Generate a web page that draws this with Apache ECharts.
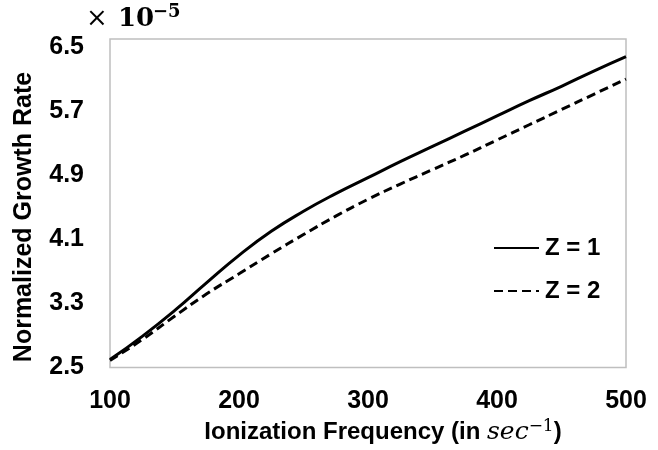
<!DOCTYPE html>
<html>
<head>
<meta charset="utf-8">
<script src="https://cdn.jsdelivr.net/npm/echarts@6/dist/echarts.min.js"></script>
<style>html,body{margin:0;padding:0;background:#fff}#c{width:658px;height:450px}</style>
</head>
<body>
<div id="c"></div>
<script>
// Data (values in units of 1e-5)
var freq = [100,125,150,175,200,225,250,275,300,325,350,375,400,425,450,475,500];
var z1 = [2.60,2.89,3.21,3.56,3.90,4.20,4.45,4.67,4.87,5.07,5.26,5.45,5.64,5.83,6.01,6.20,6.38];
var z2 = [2.59,2.85,3.14,3.42,3.67,3.92,4.16,4.39,4.60,4.79,4.97,5.15,5.34,5.53,5.72,5.91,6.10];
var yTicks = [2.5,3.3,4.1,4.9,5.7,6.5];
var xTicks = [100,200,300,400,500];
var seriesNames = ['Z = 1','Z = 2'];

function pairs(xs, ys){ return xs.map(function(x,i){ return [x, ys[i]]; }); }

var chart = echarts.init(document.getElementById('c'), null, {renderer:'canvas'});
var sans = 'Liberation Sans, Arial, sans-serif';
var serif = 'DejaVu Serif, Liberation Serif, serif';
chart.setOption({
  animation:false,
  backgroundColor:'#ffffff',
  grid:{left:110,right:32,top:39,bottom:74,show:true,borderColor:'#bfbfbf',borderWidth:1.5,backgroundColor:'transparent'},
  xAxis:{
    type:'value',min:100,max:500,interval:100,
    axisLine:{show:false},axisTick:{show:false},splitLine:{show:false},
    axisLabel:{customValues:xTicks,fontFamily:sans,fontWeight:'bold',fontSize:25,color:'#000',margin:21},
    name:'{b|Ionization Frequency (in }{i|sec}{s|−1}{b|)}',
    nameLocation:'middle',nameGap:48,
    nameTextStyle:{padding:[0,0,0,30],rich:{
      b:{fontFamily:sans,fontWeight:'bold',fontSize:24,color:'#000'},
      i:{fontFamily:serif,fontStyle:'italic',fontSize:25,color:'#000'},
      s:{fontFamily:serif,fontSize:17,color:'#000',padding:[0,0,11,0]}
    }}
  },
  yAxis:{
    type:'value',min:2.5,max:6.6,
    axisLine:{show:false},axisTick:{show:false},splitLine:{show:false},
    axisLabel:{customValues:yTicks,fontFamily:sans,fontWeight:'bold',fontSize:25,color:'#000',margin:26,
      formatter:function(v){return v.toFixed(1);}}
  },
  legend:{
    orient:'vertical',left:493,top:236,padding:0,itemWidth:45,itemHeight:14,itemGap:19,
    itemStyle:{opacity:0},
    textStyle:{fontFamily:sans,fontWeight:'bold',fontSize:24,color:'#000',padding:[0,0,0,1]},
    data:seriesNames
  },
  series:[
    {name:seriesNames[0],type:'line',data:pairs(freq,z1),smooth:true,showSymbol:false,symbol:'none',
     lineStyle:{color:'#000',width:3,type:'solid'},itemStyle:{color:'#000'}},
    {name:seriesNames[1],type:'line',data:pairs(freq,z2),smooth:true,showSymbol:false,symbol:'none',
     lineStyle:{color:'#000',width:3,type:[9,5]},itemStyle:{color:'#000'}}
  ],
  graphic:[
    {type:'text',x:24,y:217,rotation:Math.PI/2,
     style:{text:'Normalized Growth Rate',fontFamily:sans,fontWeight:'bold',fontSize:25,fill:'#000',align:'center',verticalAlign:'middle'}},
    {type:'text',left:86,top:6,style:{text:'×',fontFamily:serif,fontSize:26,fill:'#000'}},
    {type:'text',left:118,top:6,style:{text:'10',fontFamily:serif,fontWeight:'bold',fontSize:26,fill:'#000'}},
    {type:'text',left:153,top:3,style:{text:'−5',fontFamily:serif,fontWeight:'bold',fontSize:18,fill:'#000'}}
  ]
});
</script>
</body>
</html>
